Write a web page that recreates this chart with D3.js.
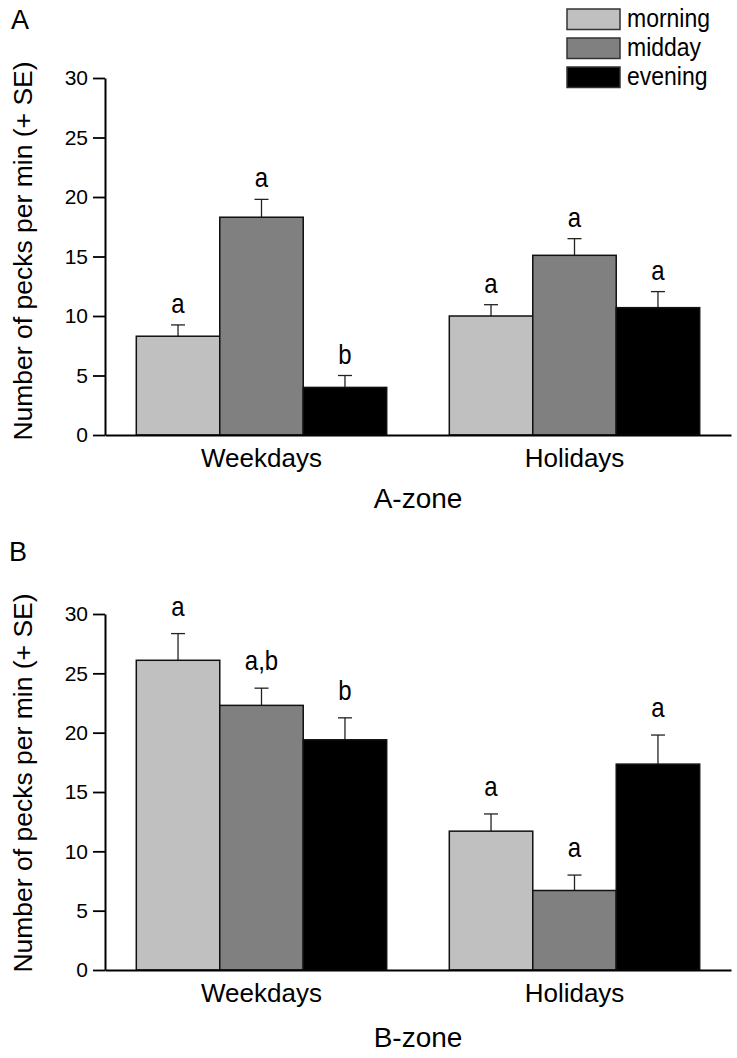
<!DOCTYPE html>
<html>
<head>
<meta charset="utf-8">
<script src="https://d3js.org/d3.v7.min.js"></script>
<style>
  html, body { margin: 0; padding: 0; background: #fff; }
  svg text { font-family: "Liberation Sans", Arial, sans-serif; fill: #000; }
</style>
</head>
<body>
<script>
// ---------- DATA ----------
const categories = ["Weekdays", "Holidays"];
const series = ["morning", "midday", "evening"];
const yTicks = [0, 5, 10, 15, 20, 25, 30];

// Panel A (A-zone)
const aMeans = [[8.3, 18.3, 4.0], [10.0, 15.1, 10.7]];
const aSE    = [[0.95, 1.5, 1.0], [0.95, 1.4, 1.35]];
const aLetters = [["a", "a", "b"], ["a", "a", "a"]];

// Panel B (B-zone)
const bMeans = [[26.1, 22.3, 19.4], [11.7, 6.7, 17.35]];
const bSE    = [[2.25, 1.45, 1.85], [1.45, 1.3, 2.45]];
const bLetters = [["a", "a,b", "b"], ["a", "a", "a"]];

const colors = ["#c0c0c0", "#808080", "#000000"];

// ---------- DRAW ----------
const W = 737, H = 1058;
const svg = d3.select("body").append("svg").attr("width", W).attr("height", H);

const x0 = d3.scaleBand().domain(categories).range([105, 731]).paddingInner(0).paddingOuter(0);
const groupW = x0.bandwidth() * 0.8;
const x1 = d3.scaleBand().domain(series).range([0, groupW]).padding(0);

function panel(opts) {
  const { means, se, letters, yTop, yBottom, label, labelY, zone, zoneY, yLabelY, letterGap } = opts;
  const y = d3.scaleLinear().domain([0, 30]).range([yBottom, yTop]);
  const g = svg.append("g");

  categories.forEach((c, ci) => {
    const gx = x0(c) + (x0.bandwidth() - groupW) / 2;
    series.forEach((s, si) => {
      const v = means[ci][si], e = se[ci][si];
      const bx = gx + x1(s), bw = x1.bandwidth();
      const cx = bx + bw / 2;
      g.append("line").attr("x1", cx).attr("x2", cx)
        .attr("y1", y(v)).attr("y2", y(v + e))
        .attr("stroke", "#222").attr("stroke-width", 1.3);
      g.append("line").attr("x1", cx - 7).attr("x2", cx + 7)
        .attr("y1", y(v + e)).attr("y2", y(v + e))
        .attr("stroke", "#222").attr("stroke-width", 1.3);
      g.append("rect").attr("x", bx).attr("y", y(v))
        .attr("width", bw).attr("height", y(0) - y(v))
        .attr("fill", colors[si]).attr("stroke", "#111").attr("stroke-width", 1.5);
      g.append("text")
        .attr("transform", `translate(${cx},${y(v + e) - letterGap}) scale(1,1.12)`)
        .attr("text-anchor", "middle").attr("font-size", 24).text(letters[ci][si]);
    });
  });

  // y axis
  const ya = d3.axisLeft(y).tickValues(yTicks).tickSize(12).tickSizeOuter(0).tickPadding(5);
  const yg = g.append("g").attr("transform", "translate(105,0)").call(ya);
  yg.select(".domain").attr("stroke", "#000").attr("stroke-width", 2);
  yg.selectAll(".tick line").attr("stroke", "#000").attr("stroke-width", 1.8);
  yg.selectAll(".tick text").attr("font-size", 21).attr("fill", "#000")
    .style("font-family", "'Liberation Sans', Arial, sans-serif");

  // x axis
  const xa = d3.axisBottom(x0).tickSize(0).tickSizeOuter(0).tickPadding(14);
  const xg = g.append("g").attr("transform", `translate(0,${yBottom})`).call(xa);
  xg.select(".domain").attr("stroke", "#000").attr("stroke-width", 2);
  xg.selectAll(".tick text").attr("font-size", 26).attr("fill", "#000")
    .style("font-family", "'Liberation Sans', Arial, sans-serif");

  // y label
  g.append("text").attr("transform", `translate(32,${yLabelY}) rotate(-90)`)
    .attr("text-anchor", "middle").attr("font-size", 26.5)
    .text("Number of pecks per min (+ SE)");

  // zone label
  g.append("text").attr("x", 418).attr("y", zoneY).attr("text-anchor", "middle")
    .attr("font-size", 28).text(zone);

  // panel letter
  g.append("text").attr("x", opts.labelX).attr("y", labelY).attr("font-size", 27).text(label);
}

panel({ means: aMeans, se: aSE, letters: aLetters, yTop: 78, yBottom: 435,
  label: "A", labelX: 11, labelY: 29, zone: "A-zone", zoneY: 508, yLabelY: 251, letterGap: 12 });
panel({ means: bMeans, se: bSE, letters: bLetters, yTop: 614, yBottom: 970,
  label: "B", labelX: 9, labelY: 561, zone: "B-zone", zoneY: 1047, yLabelY: 783, letterGap: 18 });

// legend
const lg = svg.append("g");
series.forEach((s, i) => {
  const ly = 9 + i * 29;
  lg.append("rect").attr("x", 567).attr("y", ly).attr("width", 53).attr("height", 20.5)
    .attr("fill", colors[i]).attr("stroke", "#333").attr("stroke-width", 1.5);
  lg.append("text").attr("transform", `translate(627,${ly + 18}) scale(1,1.1)`)
    .attr("font-size", 23).text(s);
});
</script>
</body>
</html>
